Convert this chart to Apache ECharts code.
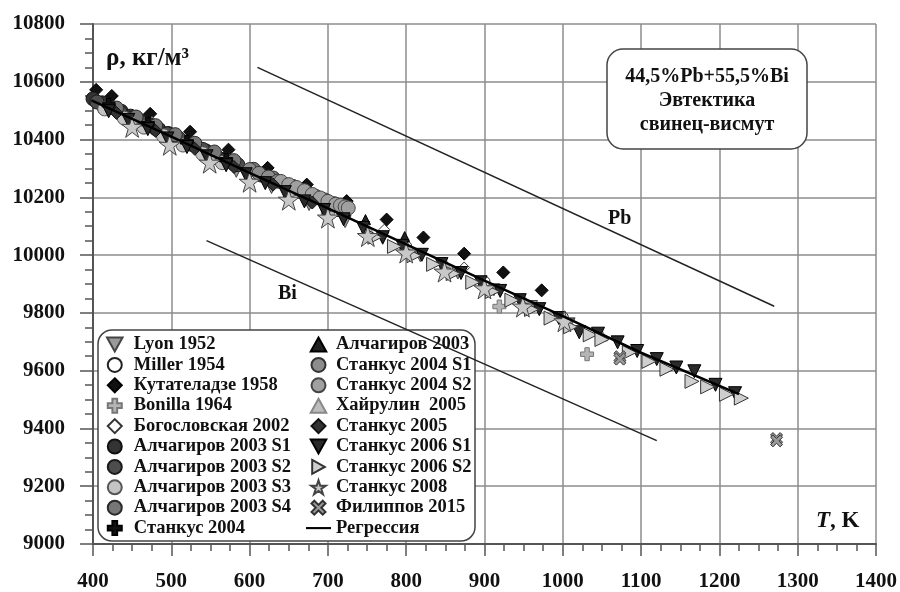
<!DOCTYPE html>
<html>
<head>
<meta charset="utf-8">
<script src="https://cdn.jsdelivr.net/npm/echarts@6/dist/echarts.min.js"></script>
<style>
  html, body { margin: 0; background: #fff; }
  #chart { width: 900px; height: 592px; }
</style>
</head>
<body>
<div id="chart"></div>
<script>
// данные: [T, K ; rho, kg/m3]
var lyon1952 = [[408,10512],[445,10463],[492,10404],[538,10346],[583,10290],[628,10234],[676,10175],[722,10116],[770,10058],[818,9998],[866,9938],[912,9880],[960,9822],[1008,9762]];
var miller1954 = [[500,10405],[600,10280],[700,10158],[800,10030],[900,9908],[1000,9785]];
var kutateladze1958 = [[404,10572],[424,10551],[473,10489],[524,10427],[573,10365],[623,10302],[673,10244],[724,10187],[775,10123],[822,10061],[874,10005],[924,9940],[973,9878]];
var bonilla1964 = [[700,10145],[800,10022],[919,9822],[1031,9657]];
var bogoslovskaya2002 = [[475,10462],[575,10330],[675,10205],[772,10088],[874,9957]];
var alch2003s1 = [[400,10541],[412,10527],[424,10511],[436,10498],[448,10481],[460,10466],[472,10452],[484,10436],[496,10421],[508,10406],[520,10391],[532,10377],[544,10361],[556,10347],[568,10332],[580,10316]];
var alch2003s2 = [[405,10530],[420,10510],[435,10493],[450,10474],[465,10457],[480,10438],[495,10420],[510,10403],[525,10384],[540,10366],[555,10349],[570,10330],[585,10313],[600,10294],[615,10277],[630,10259]];
var alch2003s3 = [[415,10506],[440,10474],[465,10443],[490,10413],[515,10381],[540,10351],[565,10320]];
var alch2003s4 = [[430,10509],[455,10478],[480,10448],[505,10417],[530,10387],[555,10357],[580,10327],[605,10297],[630,10267],[655,10238]];
var stankus2004 = [[420,10520],[470,10455],[520,10392],[570,10330],[620,10268],[670,10205],[720,10142]];
var alch2003 = [[698,10170],[748,10123],[798,10064]];
var stankus2004s1 = [[600,10296],[612,10283],[624,10270],[636,10256],[648,10243],[660,10230],[672,10217],[684,10204],[696,10191],[708,10178],[720,10166]];
var stankus2004s2 = [[640,10255],[650,10244],[660,10234],[670,10223],[680,10210],[690,10198],[700,10186],[710,10176],[716,10172],[722,10167],[726,10163]];
var khairulin2005 = [[450,10470],[550,10345],[650,10222],[750,10098],[850,9972],[950,9848],[1050,9722]];
var stankus2005 = [[430,10492],[480,10430],[530,10368],[580,10305],[630,10244],[680,10182]];
var stankus2006s1 = [[420,10498],[445,10468],[470,10436],[495,10404],[520,10374],[545,10342],[570,10311],[595,10280],[620,10249],[645,10218],[670,10186],[695,10156],[720,10124],[745,10094],[770,10062],[795,10032],[820,10001],[845,9969],[870,9938],[895,9906],[920,9876],[945,9844],[970,9813],[995,9782],[1021,9733],[1045,9728],[1070,9698],[1095,9668],[1120,9640],[1145,9611],[1168,9598],[1195,9551],[1220,9522]];
var stankus2006s2 = [[760,10062],[785,10030],[810,9998],[835,9968],[860,9936],[885,9906],[910,9874],[935,9844],[960,9812],[985,9782],[1010,9752],[1035,9724],[1050,9708],[1085,9663],[1110,9632],[1133,9605],[1165,9563],[1185,9544],[1209,9518],[1228,9505]];
var stankus2008 = [[396,10513],[450,10444],[498,10382],[549,10320],[600,10254],[650,10192],[700,10130],[751,10066],[800,10009],[849,9943],[900,9885],[949,9822],[1002,9771]];
var filippov2015 = [[1073,9648],[1073,9640],[1273,9365],[1273,9357]];
var regression = [[398,10536],[500,10410],[600,10285],[700,10162],[800,10037],[900,9912],[1000,9789],[1100,9662],[1225,9519]];
var leadLine = [[610,10650],[1270,9823]];
var bismuthLine = [[545,10050],[1120,9358]];

var legendLeft = ['Lyon 1952','Miller 1954','Кутателадзе 1958','Bonilla 1964','Богословская 2002',
  'Алчагиров 2003 S1','Алчагиров 2003 S2','Алчагиров 2003 S3','Алчагиров 2003 S4','Станкус 2004'];
var legendRight = ['Алчагиров 2003','Станкус 2004 S1','Станкус 2004 S2','Хайрулин  2005','Станкус 2005',
  'Станкус 2006 S1','Станкус 2006 S2','Станкус 2008','Филиппов 2015'];

var FONT = 'Liberation Serif';
var triUp = 'path://M5,0 L10,9 L0,9 Z';
var triDown = 'path://M0,0 L10,0 L5,9 Z';
var triRight = 'path://M0,0 L9,5 L0,10 Z';
var diamond = 'path://M5,0 L10,5 L5,10 L0,5 Z';
var plus = 'path://M3.3,0 H6.7 V3.3 H10 V6.7 H6.7 V10 H3.3 V6.7 H0 V3.3 H3.3 Z';
var cross = 'path://M0,2 L2,0 L5,3 L8,0 L10,2 L7,5 L10,8 L8,10 L5,7 L2,10 L0,8 L3,5 Z';
var star = 'path://M50,0 L61.8,36.2 L100,36.3 L69.1,58.8 L80.9,95.1 L50,72.6 L19.1,95.1 L30.9,58.8 L0,36.3 L38.2,36.2 Z';
var dash = 'path://M0,0 H26 V2.2 H0 Z';

function pts(name, data, symbol, size, fill, border) {
  return {
    name: name, type: 'scatter', data: data,
    symbol: symbol, symbolSize: size,
    itemStyle: { color: fill, borderColor: border, borderWidth: 1, opacity: 1 },
    emphasis: { disabled: true }
  };
}

var legendText = { fontSize: 18.5, fontWeight: 'bold', fontFamily: FONT, color: '#111', lineHeight: 18 };

var myChart = echarts.init(document.getElementById('chart'));

myChart.setOption({
  animation: false,
  grid: { left: 93, right: 23, top: 24, bottom: 47 },
  xAxis: {
    type: 'value', min: 400, max: 1400, interval: 100,
    axisLine: { lineStyle: { color: '#555', width: 2 } },
    axisTick: { length: 12, lineStyle: { color: '#555', width: 1.5 } },
    minorTick: { show: true, splitNumber: 4, length: 7, lineStyle: { color: '#555', width: 1.5 } },
    splitLine: { lineStyle: { color: '#8c8c8c', width: 1.5 } },
    axisLabel: { margin: 27, fontSize: 21, fontWeight: 'bold', fontFamily: FONT, color: '#111',
      formatter: function (v) { return String(v); } }
  },
  yAxis: {
    type: 'value', min: 9000, max: 10800, interval: 200,
    axisLine: { show: true, lineStyle: { color: '#555', width: 2 } },
    axisTick: { show: true, length: 13, lineStyle: { color: '#555', width: 1.5 } },
    minorTick: { show: true, splitNumber: 4, length: 8, lineStyle: { color: '#555', width: 1.5 } },
    splitLine: { lineStyle: { color: '#8c8c8c', width: 1.5 } },
    axisLabel: { margin: 28, fontSize: 21, fontWeight: 'bold', fontFamily: FONT, color: '#111',
      formatter: function (v) { return String(v); } }
  },
  legend: [
    {
      data: legendLeft, orient: 'vertical', left: 106, top: 335, padding: 0,
      itemWidth: 28, itemHeight: 14, itemGap: 1.4, selectedMode: false, symbolKeepAspect: true,
      textStyle: legendText
    },
    {
      data: legendRight.concat([{ name: 'Регрессия', icon: dash, itemStyle: { color: '#000', borderWidth: 0 } }]),
      orient: 'vertical', left: 306, top: 335, padding: 0,
      itemWidth: 25, itemHeight: 14, itemGap: 1.4, selectedMode: false, symbolKeepAspect: true,
      textStyle: legendText
    }
  ],
  graphic: [
    { type: 'rect', z: 3, shape: { x: 98, y: 330, width: 377, height: 211, r: 14 },
      style: { fill: '#fff', stroke: '#444', lineWidth: 1.5 } },
    { type: 'rect', z: 3, shape: { x: 607, y: 49, width: 200, height: 100, r: 16 },
      style: { fill: '#fff', stroke: '#444', lineWidth: 1.5 } },
    { type: 'text', z: 5, style: { text: '44,5%Pb+55,5%Bi\nЭвтектика\nсвинец-висмут',
      x: 707, y: 65, align: 'center', textAlign: 'center', font: 'bold 20px "Liberation Serif"', fill: '#111', lineHeight: 24 } },
    { type: 'text', z: 5, style: { x: 106, y: 46, text: 'ρ, кг/м³', font: 'bold 25px "Liberation Serif"', fill: '#111' } },
    { type: 'text', z: 5, style: { x: 608, y: 209, text: 'Pb', font: 'bold 20px "Liberation Serif"', fill: '#111' } },
    { type: 'text', z: 5, style: { x: 278, y: 284, text: 'Bi', font: 'bold 20px "Liberation Serif"', fill: '#111' } },
    { type: 'text', z: 5, style: { x: 816, y: 510, text: '{a|T}{b|, K}',
      rich: { a: { font: 'italic bold 23px "Liberation Serif"', fill: '#111' },
              b: { font: 'bold 23px "Liberation Serif"', fill: '#111' } } } }
  ],
  series: [
    pts('Lyon 1952', lyon1952, triDown, 12, '#9a9a9a', '#444'),
    pts('Miller 1954', miller1954, 'circle', 11, '#ffffff', '#222'),
    pts('Кутателадзе 1958', kutateladze1958, diamond, 13, '#111', '#000'),
    pts('Bonilla 1964', bonilla1964, plus, 13, '#b5b5b5', '#777'),
    pts('Богословская 2002', bogoslovskaya2002, diamond, 11, '#ffffff', '#333'),
    pts('Алчагиров 2003 S1', alch2003s1, 'circle', 14, '#333333', '#111'),
    pts('Алчагиров 2003 S2', alch2003s2, 'circle', 14, '#4d4d4d', '#1a1a1a'),
    pts('Алчагиров 2003 S3', alch2003s3, 'circle', 14, '#c4c4c4', '#555'),
    pts('Алчагиров 2003 S4', alch2003s4, 'circle', 14, '#777777', '#2a2a2a'),
    pts('Станкус 2004', stankus2004, plus, 13, '#111', '#000'),
    pts('Алчагиров 2003', alch2003, triUp, 10, '#222', '#000'),
    pts('Станкус 2004 S1', stankus2004s1, 'circle', 14, '#8c8c8c', '#333'),
    pts('Станкус 2004 S2', stankus2004s2, 'circle', 14, '#a0a0a0', '#444'),
    pts('Хайрулин  2005', khairulin2005, triUp, 11, '#bdbdbd', '#888'),
    pts('Станкус 2005', stankus2005, diamond, 13, '#333', '#111'),
    pts('Станкус 2006 S1', stankus2006s1, triDown, 13, '#2a2a2a', '#000'),
    pts('Станкус 2006 S2', stankus2006s2, triRight, 14, '#cfcfcf', '#333'),
    pts('Станкус 2008', stankus2008, star, 21, '#c8c8c8', '#444'),
    pts('Филиппов 2015', filippov2015, cross, 12, '#9a9a9a', '#333'),
    {
      name: 'Регрессия', type: 'line', data: regression, showSymbol: false, symbol: 'none',
      lineStyle: { color: '#000', width: 2.5 }, itemStyle: { color: '#000' }, z: 3, emphasis: { disabled: true }
    },
    {
      name: 'Pb', type: 'line', data: leadLine, showSymbol: false, symbol: 'none',
      lineStyle: { color: '#222', width: 1.5 }, emphasis: { disabled: true }
    },
    {
      name: 'Bi', type: 'line', data: bismuthLine, showSymbol: false, symbol: 'none',
      lineStyle: { color: '#222', width: 1.5 }, emphasis: { disabled: true }
    }
  ]
});
</script>
</body>
</html>
